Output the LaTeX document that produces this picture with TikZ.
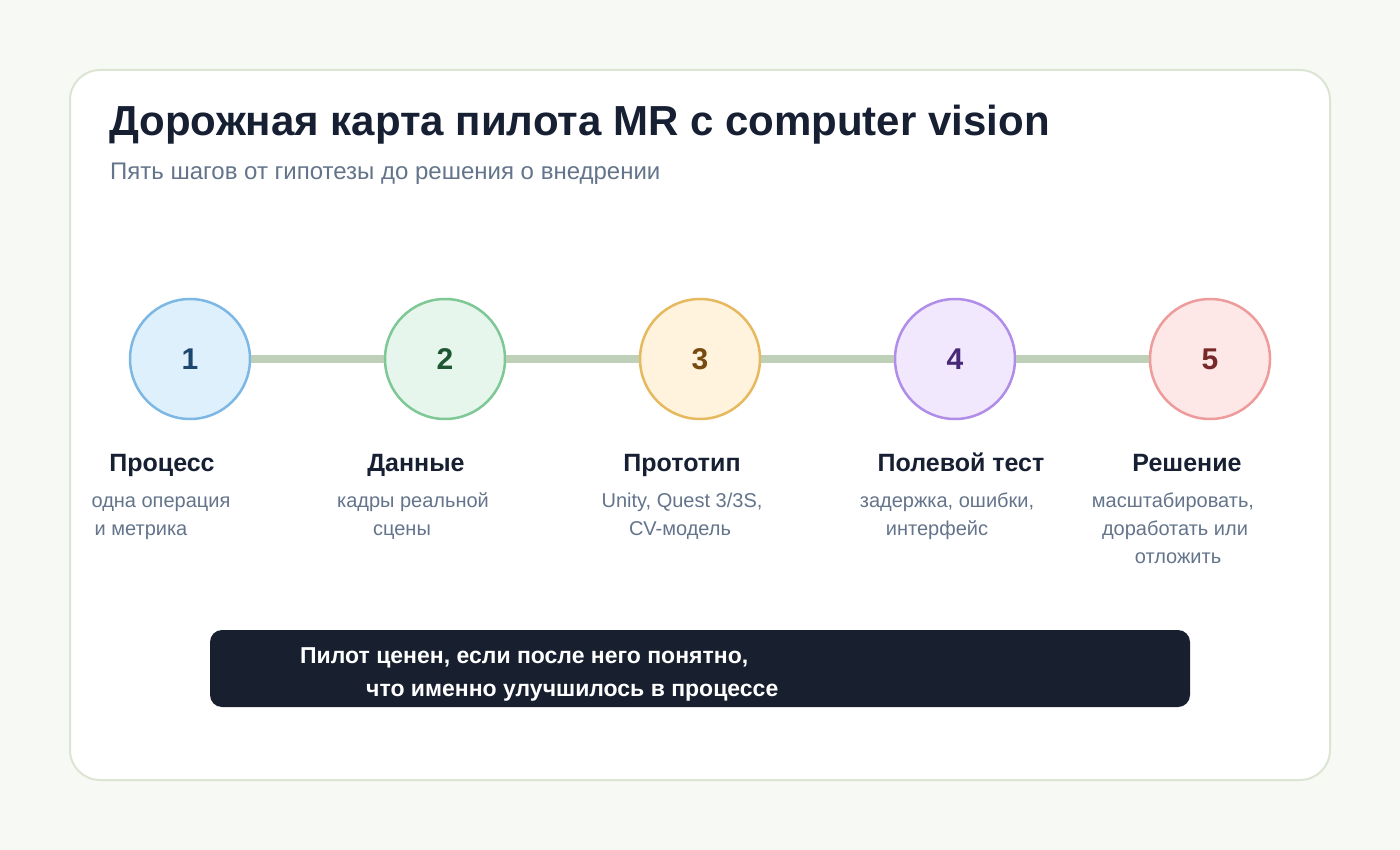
\documentclass[tikz,border=0pt]{standalone}
\usepackage{fontspec}
\setmainfont{Liberation Sans}
\usetikzlibrary{positioning}
\definecolor{pagebg}{HTML}{F7F9F4}
\definecolor{cardline}{HTML}{DCE5D3}
\definecolor{ink}{HTML}{172033}
\definecolor{muted}{HTML}{64748B}
\definecolor{trackc}{HTML}{BED0B8}
\definecolor{bannerc}{HTML}{18202F}
\definecolor{fillA}{HTML}{DFF0FD}\definecolor{drawA}{HTML}{7DB8E5}\definecolor{txtA}{HTML}{1D4670}
\definecolor{fillB}{HTML}{E7F6EC}\definecolor{drawB}{HTML}{7DC895}\definecolor{txtB}{HTML}{1E5733}
\definecolor{fillC}{HTML}{FFF3DE}\definecolor{drawC}{HTML}{E6B95E}\definecolor{txtC}{HTML}{774A10}
\definecolor{fillD}{HTML}{F1E8FD}\definecolor{drawD}{HTML}{B08DE8}\definecolor{txtD}{HTML}{482877}
\definecolor{fillE}{HTML}{FDE7E7}\definecolor{drawE}{HTML}{EE9B9B}\definecolor{txtE}{HTML}{772828}

\begin{document}
\begin{tikzpicture}[x=1pt,y=-1pt,
    stepc/.style={shape=circle,minimum size=120pt,inner sep=0pt,line width=2.5pt,
      font=\fontsize{30}{32}\selectfont\bfseries},
    steptitle/.style={inner sep=0pt,anchor=base,text=ink,font=\fontsize{25}{28}\selectfont\bfseries},
    stepnote/.style={inner sep=0pt,anchor=base,text=muted,font=\fontsize{20}{24}\selectfont},
    msg/.style={anchor=base west,inner sep=0pt,text=white,font=\fontsize{23}{26}\selectfont\bfseries},
    track/.style={draw=trackc,line width=8pt}]
\useasboundingbox (0,0) rectangle (1400,850);
\fill[pagebg] (0,0) rectangle (1400,850);
\draw[cardline,fill=white,line width=2pt,rounded corners=30pt] (70,70) rectangle (1330,780);
% title
\node[anchor=base west,inner sep=0pt,text=ink,font=\fontsize{42}{48}\selectfont\bfseries]
  (title) at (109,136) {Дорожная карта пилота MR с computer vision};
\node[anchor=base west,inner sep=0pt,text=muted,font=\fontsize{24}{28}\selectfont]
  (sub) at (110,180) {Пять шагов от гипотезы до решения о внедрении};
% steps
\node[stepc,draw=drawA,fill=fillA,text=txtA] (s1) at (190,359) {1};
\node[stepc,draw=drawB,fill=fillB,text=txtB] (s2) at (445,359) {2};
\node[stepc,draw=drawC,fill=fillC,text=txtC] (s3) at (700,359) {3};
\node[stepc,draw=drawD,fill=fillD,text=txtD] (s4) at (955,359) {4};
\node[stepc,draw=drawE,fill=fillE,text=txtE] (s5) at (1210,359) {5};
\draw[track] (s1) -- (s2);
\draw[track] (s2) -- (s3);
\draw[track] (s3) -- (s4);
\draw[track] (s4) -- (s5);
% labels
\node[steptitle] (t1) at (162,471) {Процесс};
\node[steptitle] (t2) at (416,471) {Данные};
\node[steptitle] (t3) at (682,471) {Прототип};
\node[steptitle] (t4) at (961,471) {Полевой тест};
\node[steptitle] (t5) at (1187,471) {Решение};
\node[stepnote] (n1a) at (161,507) {одна операция};
\node[stepnote] (n1b) at (141,535) {и метрика};
\node[stepnote] (n2a) at (413,507) {кадры реальной};
\node[stepnote] (n2b) at (402,535) {сцены};
\node[stepnote] (n3a) at (682,507) {Unity, Quest 3/3S,};
\node[stepnote] (n3b) at (680,535) {CV-модель};
\node[stepnote] (n4a) at (947,507) {задержка, ошибки,};
\node[stepnote] (n4b) at (937,535) {интерфейс};
\node[stepnote] (n5a) at (1173,507) {масштабировать,};
\node[stepnote] (n5b) at (1175,535) {доработать или};
\node[stepnote] (n5c) at (1178,563) {отложить};
% banner
\node[fill=bannerc,rounded corners=12pt,minimum width=980pt,minimum height=77pt,inner sep=0pt]
  (banner) at (700,668.5) {};
\node[msg] (msg1) at (300,663) {Пилот ценен, если после него понятно,};
\node[msg] (msg2) at (366,696) {что именно улучшилось в процессе};
\end{tikzpicture}
\end{document}
